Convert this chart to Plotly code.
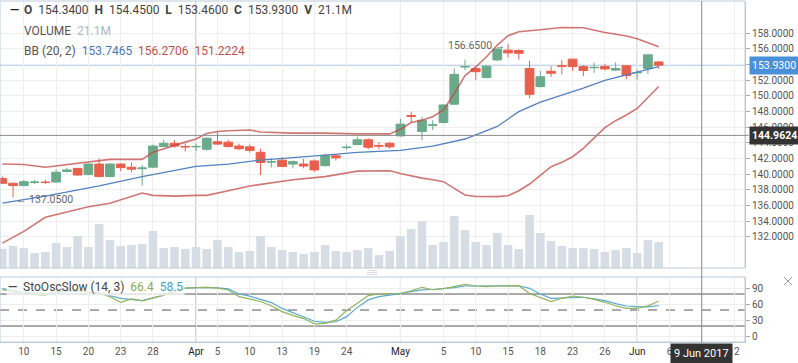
import plotly.graph_objects as go

# ---------------- data ----------------
dates = [
    "2017-03-08", "2017-03-09", "2017-03-10", "2017-03-13", "2017-03-14", "2017-03-15", "2017-03-16",
    "2017-03-17", "2017-03-20", "2017-03-21", "2017-03-22", "2017-03-23", "2017-03-24", "2017-03-27",
    "2017-03-28", "2017-03-29", "2017-03-30", "2017-03-31",
    "2017-04-03", "2017-04-04", "2017-04-05", "2017-04-06", "2017-04-07", "2017-04-10", "2017-04-11",
    "2017-04-12", "2017-04-13", "2017-04-17", "2017-04-18", "2017-04-19", "2017-04-20", "2017-04-21",
    "2017-04-24", "2017-04-25", "2017-04-26", "2017-04-27", "2017-04-28",
    "2017-05-01", "2017-05-02", "2017-05-03", "2017-05-04", "2017-05-05", "2017-05-08", "2017-05-09",
    "2017-05-10", "2017-05-11", "2017-05-12", "2017-05-15", "2017-05-16", "2017-05-17", "2017-05-18",
    "2017-05-19", "2017-05-22", "2017-05-23", "2017-05-24", "2017-05-25", "2017-05-26", "2017-05-30",
    "2017-05-31",
    "2017-06-01", "2017-06-02", "2017-06-05",
]
future_dates = ["2017-06-06", "2017-06-07", "2017-06-08", "2017-06-09", "2017-06-10", "2017-06-11", "2017-06-12"]

opens = [
    139.45, 138.85, 138.55, 138.95, 139.0, 139.0, 140.35, 140.75, 139.95, 141.3, 139.7, 141.3, 140.9, 140.7, 140.9, 143.55, 143.95, 143.55,
    143.5, 143.2, 144.15, 144.1, 143.6, 143.5, 142.8, 141.55, 141.8, 141.3, 141.3, 141.7, 141.1, 142.35, 143.4, 143.8, 144.4, 143.65, 143.95,
    144.9, 147.5, 145.45, 146.25, 146.6, 148.95, 153.7, 153.5, 152.35, 154.6, 155.85, 155.8, 153.5, 151.2, 153.15, 153.85, 154.7, 153.75, 153.6, 153.75, 153.3, 153.85,
    152.95, 153.5, 154.34,
]
highs = [
    139.7, 138.95, 139.25, 139.25, 139.3, 140.6, 140.85, 140.8, 141.35, 142.0, 141.4, 141.4, 141.5, 141.2, 143.8, 144.4, 144.35, 143.95,
    143.9, 144.7, 145.4, 144.4, 143.9, 143.8, 143.25, 142.05, 142.2, 141.75, 141.95, 141.9, 142.65, 142.55, 143.8, 144.8, 144.6, 144.1, 144.15,
    147.1, 148.0, 147.35, 146.9, 148.9, 153.5, 154.65, 153.85, 153.9, 156.05, 156.65, 155.95, 154.5, 153.2, 153.8, 154.6, 154.75, 153.95, 154.25, 154.1, 154.3, 153.95,
    153.4, 155.25, 154.45,
]
lows = [
    138.75, 137.05, 138.45, 138.75, 138.75, 138.95, 140.25, 139.8, 139.9, 139.6, 139.6, 140.4, 140.25, 138.55, 140.8, 143.45, 143.4, 142.9,
    142.95, 143.0, 143.75, 143.4, 143.1, 142.75, 139.9, 140.85, 140.9, 140.75, 140.75, 140.3, 140.95, 141.75, 143.1, 143.7, 143.2, 143.2, 143.25,
    144.8, 146.6, 144.35, 145.65, 146.5, 148.85, 153.3, 152.05, 152.25, 154.45, 154.9, 154.65, 149.7, 151.05, 152.45, 152.75, 153.2, 152.55, 152.95, 153.25, 153.2, 152.15,
    152.1, 152.8, 153.46,
]
closes = [
    138.85, 138.55, 139.05, 139.0, 138.95, 140.25, 140.55, 139.9, 141.3, 139.7, 141.3, 140.85, 140.65, 140.8, 143.6, 143.95, 143.6, 143.5,
    143.55, 144.6, 143.85, 143.55, 143.25, 143.05, 141.5, 141.6, 141.0, 141.6, 141.05, 140.55, 142.4, 142.1, 143.45, 144.4, 143.45, 143.6, 143.5,
    146.4, 147.4, 146.9, 146.3, 148.85, 152.75, 153.75, 153.1, 153.8, 156.0, 155.5, 155.45, 150.2, 152.45, 152.9, 153.8, 153.75, 153.25, 153.65, 153.45, 153.5, 152.6,
    153.0, 155.25, 153.93,
]
volumes_m = [
    15.4, 17.9, 16.2, 12.2, 13.0, 20.3, 17.0, 26.0, 17.0, 35.7, 22.7, 17.9, 18.7, 19.5, 30.0, 16.2, 17.0, 15.4,
    17.0, 15.4, 22.7, 17.0, 13.0, 13.8, 26.0, 17.0, 14.6, 13.0, 11.4, 13.0, 18.7, 13.8, 13.0, 14.6, 16.2, 10.5, 13.8,
    26.0, 31.6, 38.1, 18.7, 21.1, 42.2, 30.8, 21.1, 18.7, 28.4, 18.7, 15.4, 43.0, 28.4, 21.9, 17.9, 16.2, 16.2, 15.4, 13.0, 14.6, 16.2,
    12.2, 22.7, 21.1,
]
N = None
bb_upper = [
    141.3, N, 141.25, N, 140.9, N, 141.25, N, 141.6, N, 141.9, N, 141.9, 141.9, 142.8, N, 143.7, 144.1,
    144.5, 145.2, 145.45, 145.55, N, 145.65, 145.4, N, N, 145.25, N, N, 145.25, N, N, 145.15, N, N, 145.15,
    145.75, 146.6, 146.9, 147.35, 148.2, 150.3, 152.6, 153.7, 155.0, 156.5, 157.7, 158.2, N, 158.45, N, 158.75, N, 158.7, N, 158.1, N, 157.65,
    157.3, 156.8, 156.27,
]
bb_middle = [
    136.3, N, N, N, 137.2, N, N, N, N, 138.5, N, N, N, 139.7, N, N, N, N,
    141.0, N, N, 141.3, N, N, 141.8, N, N, 142.1, N, N, 142.45, N, N, 142.8, N, N, 142.95,
    143.05, N, N, 143.6, N, 144.2, 144.5, N, N, 146.1, N, 148.0, N, 149.2, N, 150.1, N, 151.0, N, 152.0, N, N,
    153.0, N, 153.75,
]
bb_lower = [
    131.2, N, 132.7, N, 134.5, N, 135.2, N, 135.85, N, 136.3, N, N, 137.6, 137.3, N, 137.2, N,
    137.3, 137.3, N, 137.9, N, 138.5, N, N, N, 139.3, N, N, 139.7, N, N, 140.4, N, N, 140.45,
    140.1, 139.8, 139.5, 139.3, 139.05, 138.2, 137.35, 137.15, 137.14, 137.14, 137.26, 137.9, 138.75, 139.9, 140.97, 141.52, 142.24, 143.3, 144.63, 145.95, 146.84, 147.56,
    148.4, 149.8, 151.2,
]
stoch_k = [
    88, N, 80, N, 78, 84, N, 88, N, 81, 75, 64.5, 70.7, 67, N, 78, 86, 91,
    92, 92.6, 91, 87.6, 75, 71, 66, 58, 47, 40, 34, 24, 25, 31, 49, 62.5, 77, 80, 81,
    81, 86, 92.6, 88, 90, 94, 98, 95, 93.8, 95, 95.5, 95.7, 81, 73, 65.7, 72, 76.3, 74, 70, 64.5, 58, 53,
    53, 58, 66.4,
]
stoch_d = [
    90, N, 83, N, 81, N, N, 86, N, 82, N, 72, N, 67.6, N, 78, 85, 91,
    92, 92.6, 91.5, 89.5, 80, 76, 70, 64, 53, 45, 38, 29, 27, 28, 37.6, 55, 69, 75, 78,
    81, 84, 87.6, 88.5, 90, 92, 95, 95, 95, 95, 95.5, 95.5, 90.7, 80, 72, 73, 73.8, 74, 71, 67.6, 62, 57.6,
    56.3, 56, 58.5,
]

tick_dates = ["2017-03-10", "2017-03-15", "2017-03-20", "2017-03-23", "2017-03-28", "2017-04-03", "2017-04-05",
              "2017-04-10", "2017-04-13", "2017-04-19", "2017-04-24", "2017-05-01", "2017-05-05", "2017-05-10",
              "2017-05-15", "2017-05-18", "2017-05-23", "2017-05-26", "2017-06-01", "2017-06-06", "2017-06-12"]
tick_labels = ["10", "15", "20", "23", "28", "Apr", "5", "10", "13", "19", "24", "May", "5", "10",
               "15", "18", "23", "26", "Jun", "6", "12"]
month_dates = ["2017-04-03", "2017-05-01", "2017-06-01"]
price_ticks = [132, 134, 136, 138, 140, 142, 144, 146, 148, 150, 152, 154, 156, 158]
stoch_ticks = [0, 30, 60, 90]
cursor_date = "2017-06-09"
cursor_price = 144.9624
last_price = 153.93
last_volume = "21.1M"
bb_last = (153.7465, 156.2706, 151.2224)
stoch_last = (66.4, 58.5)
max_high = (156.65, "2017-05-15")
min_low = (137.05, "2017-03-09")

# ---------------- helpers ----------------
slot = {d: i for i, d in enumerate(dates + future_dates)}
xs = [slot[d] for d in dates]

W, H = 798, 363
ML, MR, MT, MB = 0, 53, 1, 21
PW, PH = W - ML - MR, H - MT - MB


def px(xp):
    return (xp - ML) / PW


def py(yp):
    return 1 - (yp - MT) / PH


MAIN_DOM = [py(268), 1]
STO_DOM = [0, py(277)]

GREEN = "#6aaa8b"
RED = "#e8604c"
BB_RED = "rgba(192,72,68,0.75)"
BB_BLUE = "#5282bf"
K_COL = "#93b35a"
D_COL = "#58aad0"
BORDER = "#bccbd9"
GRID = "#eeeeee"
FONT = "Roboto, sans-serif"

fig = go.Figure()

fig.add_trace(go.Bar(x=xs, y=volumes_m, width=0.8, marker=dict(color="#d6dde4", line=dict(width=0)),
                     xaxis="x", yaxis="y", hoverinfo="skip"))

fig.add_trace(go.Candlestick(
    x=xs, open=opens, high=highs, low=lows, close=closes, xaxis="x", yaxis="y2",
    increasing=dict(line=dict(color=GREEN, width=1), fillcolor=GREEN),
    decreasing=dict(line=dict(color=RED, width=1), fillcolor=RED),
    whiskerwidth=0, hoverinfo="skip"))

for vals, col, wd in [(bb_upper, BB_RED, 1.6), (bb_lower, BB_RED, 1.6), (bb_middle, BB_BLUE, 1.3)]:
    fig.add_trace(go.Scatter(x=xs, y=vals, mode="lines", connectgaps=True, line=dict(color=col, width=wd),
                             xaxis="x", yaxis="y2", hoverinfo="skip"))

fig.add_trace(go.Scatter(x=xs, y=stoch_d, mode="lines", connectgaps=True, line=dict(color=D_COL, width=1.2),
                         xaxis="x", yaxis="y3", hoverinfo="skip"))
fig.add_trace(go.Scatter(x=xs, y=stoch_k, mode="lines", connectgaps=True, line=dict(color=K_COL, width=1.2),
                         xaxis="x", yaxis="y3", hoverinfo="skip"))

x_left = 18 - 196 / 10.76
x_right = 18 + (745 - 196) / 10.76

tick_text = []
for d, t in zip(tick_dates, tick_labels):
    if d in month_dates:
        tick_text.append("<span style='color:#222'>%s</span>" % t)
    else:
        tick_text.append(t)

vol_top = 267 / 26 * 21.1
price_top = 158 + (33.3 - 1) / 7.83
price_bot = 158 - (268 - 33.3) / 7.83

fig.update_layout(
    width=W, height=H, margin=dict(l=ML, r=MR, t=MT, b=MB),
    paper_bgcolor="white", plot_bgcolor="white",
    showlegend=False, font=dict(family=FONT, size=10, color="#555"),
    boxgap=0.1, boxgroupgap=0.1, bargap=0.2,
    xaxis=dict(domain=[0, 1], anchor="y3", range=[x_left, x_right], type="linear",
               tickvals=[slot[d] for d in tick_dates], ticktext=tick_text,
               showgrid=True, gridcolor=GRID, gridwidth=1, zeroline=False,
               showline=True, linecolor=BORDER, ticks="", tickfont=dict(size=10, color="#555"),
               rangeslider=dict(visible=False)),
    yaxis=dict(domain=MAIN_DOM, anchor="x", range=[0, vol_top], visible=False, showgrid=False),
    yaxis2=dict(overlaying="y", side="right", anchor="x", range=[price_bot, price_top],
                tickvals=price_ticks, ticktext=["%.4f" % v for v in price_ticks],
                showgrid=True, gridcolor=GRID, zeroline=False, showline=True, linecolor=BORDER,
                ticks="outside", ticklen=4, tickcolor="#aaa", tickfont=dict(size=10, color="#555")),
    yaxis3=dict(domain=STO_DOM, anchor="x", side="right", range=[-9.9, 111.9],
                tickvals=stoch_ticks, showgrid=True, gridcolor=GRID, zeroline=False,
                showline=True, linecolor=BORDER, ticks="outside", ticklen=4, tickcolor="#aaa",
                tickfont=dict(size=10, color="#555")),
)

shapes = []
shapes.append(dict(type="rect", xref="paper", yref="paper", x0=0, x1=1, y0=MAIN_DOM[0], y1=MAIN_DOM[1],
                   line=dict(color=BORDER, width=1), layer="above"))
shapes.append(dict(type="rect", xref="paper", yref="paper", x0=0, x1=1, y0=STO_DOM[0], y1=STO_DOM[1],
                   line=dict(color=BORDER, width=1), layer="above"))
for d in month_dates:
    for dom in (MAIN_DOM, STO_DOM):
        shapes.append(dict(type="line", xref="x", yref="paper", x0=slot[d], x1=slot[d], y0=dom[0], y1=dom[1],
                           line=dict(color="#aaaaaa", width=1), layer="below"))
for lv, dash in [(80, "solid"), (20, "solid"), (50, "dash")]:
    shapes.append(dict(type="line", xref="paper", yref="y3", x0=0, x1=1, y0=lv, y1=lv,
                       line=dict(color="#555", width=1, dash=dash), layer="below"))
shapes.append(dict(type="line", xref="paper", yref="y2", x0=0, x1=1, y0=last_price, y1=last_price,
                   line=dict(color="#9cc2ea", width=1), layer="below"))
shapes.append(dict(type="line", xref="paper", yref="y2", x0=0, x1=1.005, y0=cursor_price, y1=cursor_price,
                   line=dict(color="#8a8a8a", width=1), layer="above"))
shapes.append(dict(type="line", xref="x", yref="paper", x0=slot[cursor_date], x1=slot[cursor_date],
                   y0=py(343), y1=1, line=dict(color="#8a8a8a", width=1), layer="above"))
# panel splitter handle
for yy in (270.5, 272.5, 274.5):
    shapes.append(dict(type="line", xref="paper", yref="paper", x0=px(367), x1=px(377), y0=py(yy), y1=py(yy),
                       line=dict(color="#dddddd", width=1)))
# close icon
shapes.append(dict(type="line", xref="paper", yref="paper", x0=px(784), x1=px(792), y0=py(277), y1=py(285),
                   line=dict(color="#999999", width=1)))
shapes.append(dict(type="line", xref="paper", yref="paper", x0=px(784), x1=px(792), y0=py(285), y1=py(277),
                   line=dict(color="#999999", width=1)))
fig.update_layout(shapes=shapes)

ann = []
ann.append(dict(xref="paper", yref="paper", x=px(8), y=py(10), xanchor="left", yanchor="middle",
                text="<b>\u2014</b>", showarrow=False, font=dict(size=12, color="#222")))
sp = "\u00a0\u00a0"
row1 = ("<b>O</b>" + sp + "154.3400" + sp + "<b>H</b>" + sp + "154.4500" + sp + "<b>L</b>" + sp + "153.4600"
        + sp + "<b>C</b>" + sp + "%.4f" % last_price + sp + "<b>V</b>" + sp + last_volume)
ann.append(dict(xref="paper", yref="paper", x=px(22), y=py(10), xanchor="left", yanchor="middle",
                text=row1, showarrow=False, font=dict(size=12, color="#444")))
ann.append(dict(xref="paper", yref="paper", x=px(22), y=py(31), xanchor="left", yanchor="middle",
                text="VOLUME" + sp + "<span style='color:#a9b8c8'>%s</span>" % last_volume,
                showarrow=False, font=dict(size=12, color="#555")))
ann.append(dict(xref="paper", yref="paper", x=px(22), y=py(51), xanchor="left", yanchor="middle",
                text="BB (20, 2)" + sp + "<span style='color:#4a7ab5'>%.4f</span>" % bb_last[0] + sp
                     + "<span style='color:#c0504d'>%.4f</span>" % bb_last[1] + sp
                     + "<span style='color:#c0504d'>%.4f</span>" % bb_last[2],
                showarrow=False, font=dict(size=12, color="#555")))
ann.append(dict(xref="paper", yref="paper", x=px(6), y=py(287), xanchor="left", yanchor="middle",
                text="<b>\u2014</b>" + sp + "StoOscSlow (14, 3)" + sp
                     + "<span style='color:#8cab4a'>%.1f</span>" % stoch_last[0] + sp
                     + "<span style='color:#3f9fc8'>%.1f</span>" % stoch_last[1],
                showarrow=False, bgcolor="rgba(255,255,255,0.75)", borderpad=1,
                font=dict(size=12, color="#444")))
ann.append(dict(xref="x", yref="y2", x=slot[min_low[1]], y=min_low[0], xanchor="left", yanchor="middle",
                xshift=1, yshift=-2, text="\u2190 %.4f" % min_low[0], showarrow=False,
                font=dict(size=10.5, color="#666")))
ann.append(dict(xref="x", yref="y2", x=slot[max_high[1]], y=max_high[0], xanchor="right", yanchor="middle",
                xshift=-1, yshift=-2, text="%.4f \u2192" % max_high[0], showarrow=False,
                font=dict(size=10.5, color="#666")))
ann.append(dict(xref="paper", yref="y2", x=px(749), y=last_price, xanchor="left", yanchor="middle",
                text="%.4f" % last_price, showarrow=False, bgcolor="#4a90d9", borderpad=2,
                font=dict(size=10.5, color="white")))
ann.append(dict(xref="paper", yref="y2", x=px(749), y=cursor_price, xanchor="left", yanchor="middle",
                text="<b>%.4f</b>" % cursor_price, showarrow=False, bgcolor="#333333", borderpad=2,
                font=dict(size=10.5, color="white")))
ann.append(dict(xref="x", yref="paper", x=slot[cursor_date], y=py(353), xanchor="center", yanchor="middle",
                text="9 Jun 2017", showarrow=False, bgcolor="#333333", borderpad=3,
                font=dict(size=11, color="white")))
fig.update_layout(annotations=ann)

fig.write_html("out.html", config={"displayModeBar": False},
               post_script="document.body.style.margin='0';document.body.style.overflow='hidden';")
